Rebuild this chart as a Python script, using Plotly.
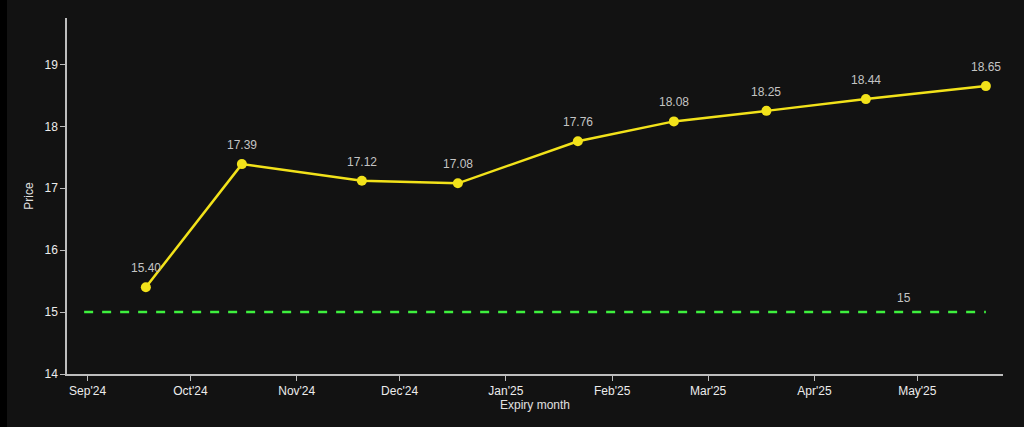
import plotly.graph_objects as go

# VIX futures term structure vs spot
expiry_dates = [
    "2024-09-18", "2024-10-16", "2024-11-20", "2024-12-18", "2025-01-22",
    "2025-02-19", "2025-03-18", "2025-04-16", "2025-05-21",
]
prices = [15.40, 17.39, 17.12, 17.08, 17.76, 18.08, 18.25, 18.44, 18.65]

spot_value = 15
spot_line_dates = ["2024-08-31", "2025-05-21"]
spot_label_date = "2025-04-27"

x_range = ["2024-08-26", "2025-05-26"]
y_range = [14, 19.75]

label_color = "#c4c4c4"

fig = go.Figure()

fig.add_trace(go.Scatter(
    x=spot_line_dates, y=[spot_value, spot_value],
    mode="lines",
    line=dict(color="#3ef03e", width=2.5, dash="dash"),
    hoverinfo="skip", showlegend=False,
))

fig.add_trace(go.Scatter(
    x=expiry_dates, y=prices,
    mode="lines+markers",
    line=dict(color="#f2e21a", width=2.5),
    marker=dict(color="#f2e21a", size=10),
    showlegend=False,
))

# price labels above each point
for d, p in zip(expiry_dates, prices):
    fig.add_annotation(
        x=d, y=p, text=f"{p:.2f}", showarrow=False, yshift=19,
        font=dict(color=label_color, size=12),
    )

fig.add_annotation(
    x=spot_label_date, y=spot_value, text=str(spot_value),
    showarrow=False, yshift=14,
    font=dict(color=label_color, size=12),
)

axis_style = dict(
    showgrid=False, zeroline=False,
    showline=True, linecolor="#bdbdbd", linewidth=1.5,
    ticks="outside", ticklen=5, tickcolor="#bdbdbd",
    tickfont=dict(color="#ececec", size=12),
    title_font=dict(color="#e0e0e0", size=12),
)

fig.update_layout(
    width=1017, height=427,
    paper_bgcolor="#121212", plot_bgcolor="#121212",
    font=dict(family="Arial, Liberation Sans, sans-serif"),
    margin=dict(l=60, r=21, t=18, b=53),
    xaxis=dict(
        **axis_style, title_text="Expiry month", title_standoff=3,
        type="date", range=x_range, dtick="M1", tickformat="%b'%y",
    ),
    yaxis=dict(
        **axis_style, title_text="Price", title_standoff=8,
        range=y_range, dtick=1,
    ),
)

# page edge: thin black strip on the left like the original screenshot
page_js = "document.body.style.margin='0 0 0 7px';document.body.style.background='#000';"
fig.write_html("out.html", post_script=page_js)
